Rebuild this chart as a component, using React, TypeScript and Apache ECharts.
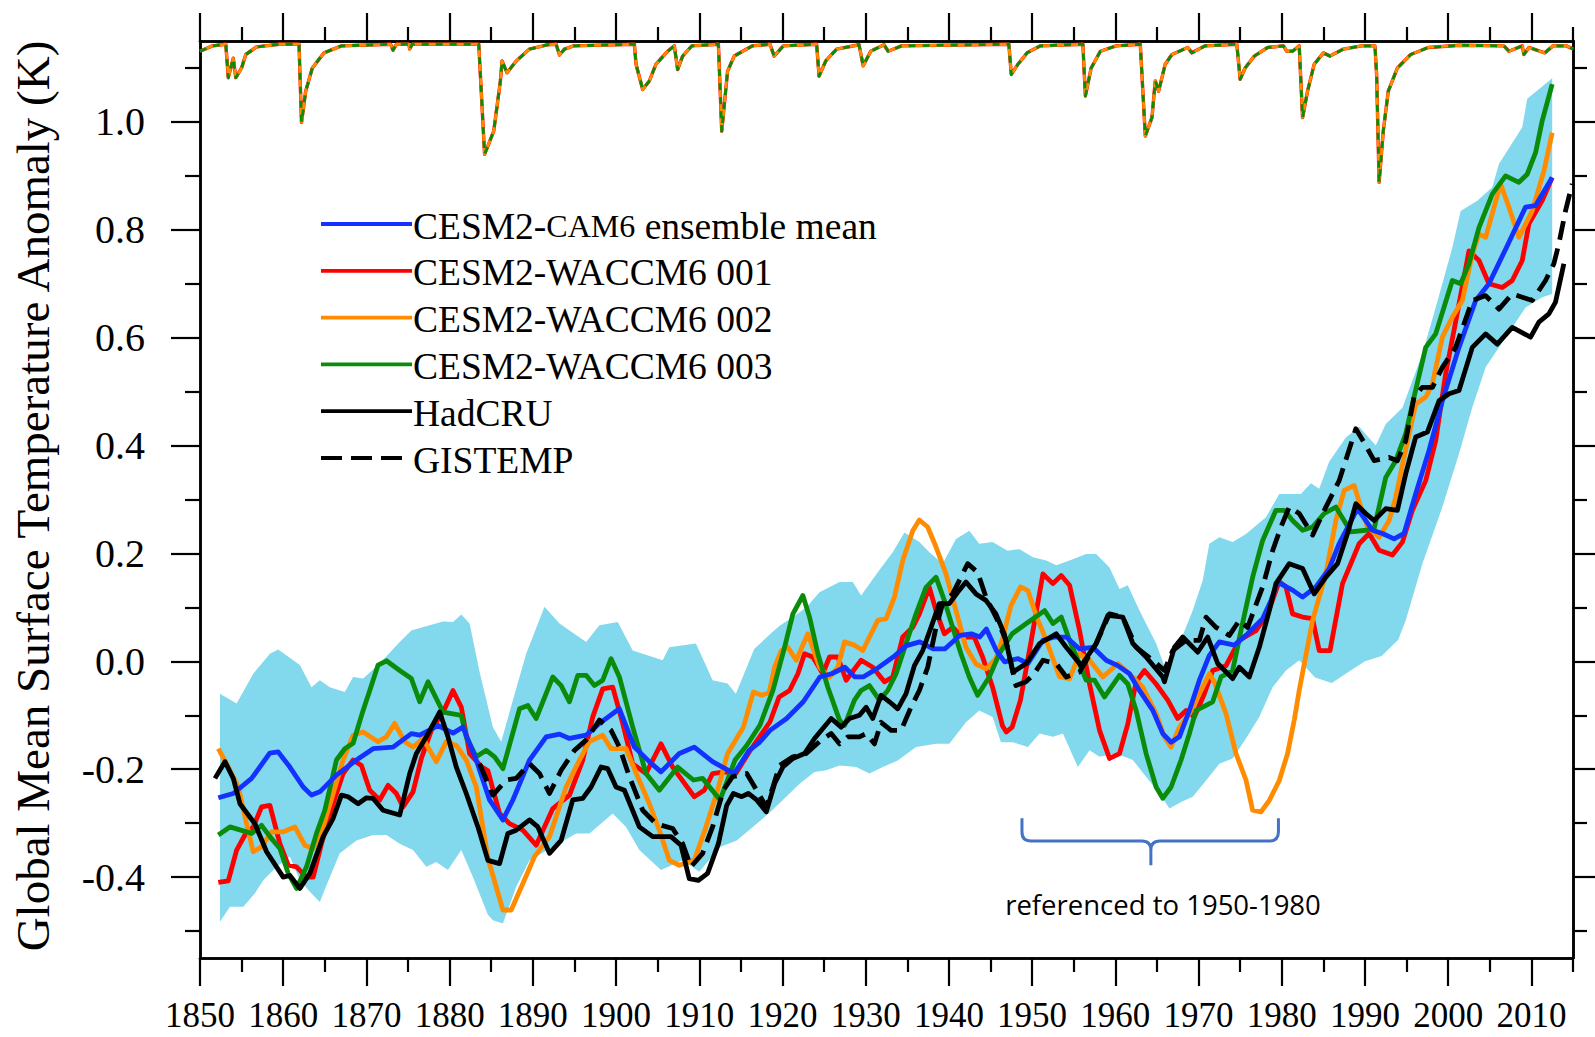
import React, { useEffect, useRef } from "react";
import * as echarts from "echarts";

// ---------------- data (year, anomaly K) ----------------
const ensembleMean: number[][] = [
  [1852.2, -0.253], [1854, -0.245], [1856.2, -0.217], [1858.4, -0.17], [1859.4, -0.168], [1860.8, -0.196],
  [1862.4, -0.233], [1863.4, -0.248], [1864.4, -0.242], [1866.4, -0.211], [1868.8, -0.183], [1870.8, -0.162],
  [1873.2, -0.159], [1875.4, -0.134], [1876.4, -0.137], [1878.6, -0.119], [1880.4, -0.133], [1881.6, -0.122],
  [1883.2, -0.183], [1884.8, -0.257], [1886.4, -0.294], [1887.6, -0.257], [1889.6, -0.183], [1891.6, -0.14],
  [1893.2, -0.135], [1894.4, -0.143], [1896.4, -0.137], [1898, -0.115], [1900.4, -0.088], [1902.2, -0.159],
  [1904, -0.186], [1905.4, -0.205], [1907.6, -0.171], [1909.4, -0.159], [1911.6, -0.186], [1914.2, -0.208],
  [1916, -0.165], [1917.25, -0.15], [1918.5, -0.128], [1920.5, -0.106], [1922.5, -0.075], [1924.5, -0.029],
  [1925.9, -0.023], [1927.5, -0.011], [1928.7, -0.029], [1929.7, -0.029], [1931.3, -0.014], [1933.3, 0.008],
  [1934.9, 0.029], [1936.5, 0.036], [1938.1, 0.023], [1939.5, 0.023], [1941.3, 0.048], [1942.7, 0.051],
  [1943.7, 0.045], [1944.5, 0.06], [1945.7, 0.02], [1946.7, -0.001], [1948.3, 0.005], [1949.5, -0.004],
  [1951.3, 0.039], [1952.7, 0.045], [1954.1, 0.045], [1955.7, 0.023], [1957.3, 0.026], [1958.9, 0.002],
  [1960.3, -0.008], [1961.7, -0.023], [1962.9, -0.054], [1964.5, -0.091], [1965.7, -0.134], [1966.7, -0.15],
  [1967.7, -0.14], [1968.9, -0.091], [1970.1, -0.035], [1971.3, 0.011], [1972.5, 0.036], [1974.3, 0.03],
  [1975.9, 0.051], [1977.7, 0.079], [1978.7, 0.113], [1979.5, 0.147], [1981.3, 0.132], [1982.5, 0.119],
  [1984.1, 0.138], [1985.7, 0.172], [1986.9, 0.218], [1989.1, 0.283], [1990.9, 0.243], [1992.1, 0.237],
  [1993.5, 0.227], [1994.7, 0.237], [1996.1, 0.311], [1997.7, 0.391], [1999.3, 0.483], [2001.3, 0.582],
  [2003.3, 0.669], [2004.9, 0.7], [2006.9, 0.764], [2009.3, 0.842], [2010.5, 0.845], [2012.5, 0.897],
];

const waccm001: number[][] = [
  [1852.2, -0.41], [1853.4, -0.407], [1854.4, -0.35], [1855.4, -0.322], [1856.4, -0.307], [1857.4, -0.27],
  [1858.4, -0.267], [1859.6, -0.338], [1860.6, -0.378], [1861.6, -0.381], [1862.8, -0.4], [1863.6, -0.4],
  [1864.6, -0.338], [1866, -0.264], [1867.2, -0.208], [1868.4, -0.183], [1869.4, -0.193], [1870.4, -0.239],
  [1871.6, -0.257], [1872.6, -0.23], [1873.6, -0.245], [1874.4, -0.27], [1875.6, -0.242], [1876.6, -0.18],
  [1877.8, -0.128], [1879.4, -0.088], [1880.4, -0.054], [1881.4, -0.085], [1882.4, -0.171], [1883.8, -0.195],
  [1884.6, -0.203], [1886, -0.282], [1887.2, -0.301], [1888.8, -0.313], [1890.4, -0.341], [1892.4, -0.273],
  [1894.4, -0.248], [1896, -0.183], [1897.2, -0.103], [1898.4, -0.051], [1899.6, -0.048], [1900.8, -0.115],
  [1902, -0.19], [1903.6, -0.208], [1905.4, -0.153], [1906.8, -0.196], [1909.4, -0.251], [1910.6, -0.239],
  [1911.6, -0.208], [1913, -0.205], [1914.4, -0.208], [1916, -0.168], [1917.25, -0.14], [1918.5, -0.112],
  [1919.6, -0.066], [1920.85, -0.054], [1921.85, -0.023], [1922.65, 0.014], [1923.65, 0.008], [1924.85, -0.023],
  [1925.65, 0.008], [1926.65, 0.008], [1927.65, -0.035], [1929.45, 0.002], [1930.85, -0.011], [1932.25, -0.038],
  [1933.25, -0.029], [1934.45, 0.045], [1935.65, 0.063], [1936.45, 0.088], [1937.65, 0.137], [1938.45, 0.094],
  [1939.45, 0.051], [1940.45, 0.063], [1941.65, 0.045], [1943.05, 0.045], [1944.05, 0.008], [1945.25, -0.048],
  [1946.45, -0.12], [1946.9, -0.131], [1947.6, -0.122], [1948.6, -0.072], [1949.9, 0.039], [1951.3, 0.162],
  [1952.5, 0.144], [1953.5, 0.159], [1954.5, 0.141], [1955.7, 0.057], [1956.9, -0.042], [1958.1, -0.128],
  [1959.3, -0.18], [1960.5, -0.171], [1961.5, -0.116], [1962.5, -0.038], [1963.5, -0.017], [1964.9, -0.042],
  [1966.3, -0.072], [1967.5, -0.106], [1968.5, -0.091], [1969.5, -0.103], [1970.7, -0.06], [1971.7, -0.017],
  [1973.3, -0.008], [1974.9, 0.039], [1976.9, 0.057], [1978.3, 0.088], [1979.7, 0.148], [1980.5, 0.138],
  [1981.3, 0.088], [1982.5, 0.082], [1983.7, 0.079], [1984.5, 0.02], [1985.8, 0.02], [1987.3, 0.144],
  [1989.3, 0.218], [1990.5, 0.237], [1991.7, 0.206], [1993.3, 0.197], [1994.5, 0.221], [1995.7, 0.28],
  [1997.3, 0.335], [1998.5, 0.409], [1999.7, 0.533], [2001.3, 0.662], [2002.5, 0.761], [2003.7, 0.743],
  [2004.9, 0.7], [2006.5, 0.693], [2007.7, 0.706], [2008.9, 0.743], [2009.7, 0.811], [2011.3, 0.854],
  [2012.5, 0.897],
];

const waccm002: number[][] = [
  [1852.2, -0.162], [1853.4, -0.196], [1854.6, -0.233], [1855.6, -0.301], [1856.4, -0.353], [1857.4, -0.344],
  [1858.6, -0.316], [1860, -0.316], [1861.4, -0.307], [1862.6, -0.341], [1863.6, -0.347], [1864.8, -0.307],
  [1866, -0.245], [1867.2, -0.183], [1868.4, -0.137], [1869.6, -0.131], [1871.4, -0.149], [1872.4, -0.14],
  [1873.4, -0.115], [1874.6, -0.149], [1875.6, -0.159], [1876.8, -0.143], [1878.4, -0.186], [1879.6, -0.149],
  [1880.8, -0.156], [1882, -0.183], [1883.2, -0.233], [1884.6, -0.365], [1886.4, -0.461], [1887.4, -0.461],
  [1888.8, -0.412], [1890.2, -0.362], [1892, -0.325], [1894, -0.233], [1895.6, -0.183], [1896.8, -0.149],
  [1898.4, -0.137], [1899.4, -0.162], [1901.2, -0.162], [1902.6, -0.214], [1904, -0.264], [1905.2, -0.313],
  [1906.4, -0.369], [1907.6, -0.378], [1909.4, -0.369], [1910.8, -0.307], [1912.2, -0.239], [1913.4, -0.171],
  [1915.3, -0.122], [1916.5, -0.057], [1917.5, -0.063], [1918.4, -0.058], [1919.05, -0.011], [1919.85, 0.02],
  [1920.65, 0.026], [1921.65, 0.002], [1923.05, 0.051], [1924.45, -0.011], [1925.65, -0.029], [1926.65, -0.011],
  [1927.45, 0.036], [1928.65, 0.03], [1929.65, 0.02], [1931.45, 0.076], [1932.45, 0.079], [1933.45, 0.119],
  [1934.45, 0.187], [1935.65, 0.242], [1936.45, 0.262], [1937.45, 0.249], [1938.45, 0.212], [1939.65, 0.162],
  [1940.85, 0.094], [1942.05, 0.026], [1943.25, -0.005], [1944.45, -0.014], [1945.65, 0.005], [1946.45, 0.042],
  [1947.45, 0.103], [1948.6, 0.138], [1949.5, 0.131], [1950.6, 0.08], [1951.7, 0.039], [1953.3, -0.029],
  [1954.5, -0.032], [1955.7, 0.014], [1956.9, 0.002], [1958.5, -0.029], [1960.3, -0.004], [1961.7, -0.023],
  [1963.3, -0.048], [1964.9, -0.097], [1965.9, -0.14], [1966.7, -0.159], [1967.7, -0.122], [1968.9, -0.097],
  [1970.1, -0.06], [1971.3, -0.023], [1971.9, -0.038], [1973.3, -0.097], [1974.5, -0.171], [1975.7, -0.22],
  [1976.5, -0.276], [1977.5, -0.279], [1978.5, -0.258], [1979.7, -0.221], [1980.7, -0.171], [1981.5, -0.109],
  [1982.1, -0.054], [1983.7, 0.076], [1985.3, 0.162], [1986.5, 0.261], [1987.5, 0.317], [1988.7, 0.326],
  [1989.5, 0.286], [1990.3, 0.249], [1991.7, 0.23], [1992.9, 0.261], [1993.7, 0.304], [1994.7, 0.379],
  [1996.1, 0.477], [1997.3, 0.49], [1998.1, 0.514], [1999.3, 0.601], [2000.5, 0.638], [2001.7, 0.669],
  [2002.9, 0.755], [2003.7, 0.792], [2004.5, 0.786], [2006.3, 0.885], [2007.3, 0.842], [2008.5, 0.786],
  [2010.1, 0.835], [2011.5, 0.909], [2012.5, 0.98],
];

const waccm003: number[][] = [
  [1852.2, -0.322], [1853.6, -0.307], [1856.2, -0.319], [1857.4, -0.304], [1858.4, -0.325], [1859.6, -0.347],
  [1860.6, -0.393], [1861.6, -0.421], [1862.8, -0.381], [1864, -0.319], [1865, -0.276], [1866.4, -0.183],
  [1867.4, -0.162], [1868.4, -0.152], [1869.6, -0.091], [1870.4, -0.054], [1871.4, -0.007], [1872.4, 0.001],
  [1874, -0.017], [1875.4, -0.032], [1876.4, -0.075], [1877.4, -0.038], [1879.2, -0.094], [1881.4, -0.1],
  [1882, -0.14], [1883.2, -0.177], [1884.4, -0.165], [1885.4, -0.177], [1886.4, -0.199], [1888.4, -0.088],
  [1889.4, -0.082], [1890.4, -0.106], [1892.4, -0.029], [1893.4, -0.045], [1894.4, -0.075], [1895.4, -0.026],
  [1896.4, -0.026], [1897.4, -0.045], [1898.4, -0.035], [1899.4, 0.005], [1900.4, -0.029], [1902, -0.122],
  [1903.6, -0.208], [1905.2, -0.239], [1907.4, -0.196], [1909.3, -0.22], [1910.4, -0.217], [1912.5, -0.257],
  [1914.3, -0.183], [1915.7, -0.156], [1917.3, -0.118], [1918.85, -0.054], [1920.25, 0.026], [1921.25, 0.088],
  [1922.45, 0.122], [1923.25, 0.082], [1924.25, 0.014], [1925.45, -0.048], [1926.85, -0.109], [1927.45, -0.119],
  [1928.65, -0.072], [1929.45, -0.054], [1930.45, -0.045], [1931.65, -0.072], [1932.65, -0.054], [1933.65, -0.023],
  [1934.85, 0.033], [1936.05, 0.088], [1937.25, 0.137], [1938.45, 0.156], [1939.45, 0.113], [1940.45, 0.063],
  [1941.45, 0.014], [1942.45, -0.029], [1943.45, -0.063], [1944.85, -0.029], [1946.05, 0.014], [1947.6, 0.051],
  [1949.3, 0.07], [1951.5, 0.094], [1952.5, 0.07], [1953.5, 0.082], [1954.5, 0.039], [1956.5, -0.035],
  [1957.5, -0.035], [1958.7, -0.066], [1960.5, -0.026], [1961.5, -0.042], [1962.5, -0.091], [1963.7, -0.171],
  [1964.9, -0.233], [1965.7, -0.254], [1966.7, -0.233], [1967.9, -0.183], [1968.9, -0.134], [1969.7, -0.091],
  [1970.5, -0.085], [1971.7, -0.075], [1972.7, -0.029], [1974.1, -0.017], [1975.1, 0.057], [1976.5, 0.156],
  [1977.7, 0.224], [1979.3, 0.28], [1980.3, 0.28], [1981.3, 0.261], [1982.5, 0.243], [1983.7, 0.249],
  [1985.1, 0.274], [1986.5, 0.286], [1988.3, 0.24], [1990.1, 0.243], [1991.1, 0.246], [1992.5, 0.341],
  [1993.7, 0.372], [1994.9, 0.422], [1995.7, 0.477], [1997.3, 0.582], [1998.5, 0.607], [2000.5, 0.706],
  [2001.5, 0.7], [2002.5, 0.737], [2003.7, 0.804], [2005.3, 0.866], [2006.9, 0.9], [2008.5, 0.888],
  [2009.5, 0.903], [2010.5, 0.943], [2011.3, 1.002], [2012.5, 1.07],
];

const hadcru: number[][] = [
  [1851.8, -0.217], [1853, -0.186], [1854, -0.217], [1854.8, -0.264], [1856.6, -0.301], [1858, -0.353],
  [1860, -0.4], [1860.8, -0.397], [1862, -0.421], [1863.2, -0.393], [1864.8, -0.325], [1866, -0.291],
  [1867, -0.248], [1867.8, -0.251], [1869, -0.264], [1870, -0.253], [1870.8, -0.254], [1872, -0.276],
  [1874, -0.285], [1875.2, -0.208], [1876, -0.171], [1877.2, -0.14], [1878.8, -0.094], [1879.8, -0.14],
  [1880.8, -0.196], [1882, -0.245], [1883.4, -0.307], [1884.6, -0.369], [1886, -0.375], [1887, -0.319],
  [1888, -0.313], [1889.6, -0.294], [1890.6, -0.307], [1892, -0.356], [1893.4, -0.332], [1894.8, -0.257],
  [1896, -0.254], [1897, -0.233], [1898.2, -0.196], [1899, -0.199], [1900, -0.233], [1901, -0.239],
  [1902.8, -0.307], [1904.4, -0.325], [1906.6, -0.325], [1907.8, -0.341], [1908.8, -0.403], [1909.9, -0.406],
  [1911, -0.393], [1912.3, -0.338], [1913.3, -0.267], [1914.1, -0.245], [1915.1, -0.251], [1915.9, -0.245],
  [1916.9, -0.257], [1918.05, -0.279], [1919.05, -0.227], [1920.05, -0.196], [1921.25, -0.18], [1922.65, -0.171],
  [1923.85, -0.143], [1925.85, -0.106], [1927.05, -0.122], [1928.05, -0.106], [1929.25, -0.1], [1930.05, -0.085],
  [1930.85, -0.106], [1931.85, -0.063], [1932.85, -0.075], [1933.85, -0.088], [1934.85, -0.06], [1935.85, -0.008],
  [1936.85, 0.02], [1937.85, 0.063], [1938.85, 0.107], [1940.05, 0.107], [1941.05, 0.128], [1942.05, 0.147],
  [1943.25, 0.125], [1944.45, 0.113], [1945.65, 0.088], [1946.65, 0.051], [1947.7, -0.02], [1949.3, -0.004],
  [1950.9, 0.033], [1952.9, 0.051], [1954.1, 0.026], [1955.9, -0.008], [1957.7, 0.033], [1959.1, 0.085],
  [1960.9, 0.082], [1962.1, 0.033], [1963.7, 0.008], [1965.7, -0.029], [1965.9, -0.038], [1967.1, 0.026],
  [1968.1, 0.045], [1969.9, 0.017], [1971.1, 0.045], [1972.3, -0.004], [1974.1, -0.032], [1974.9, -0.011],
  [1976.1, -0.029], [1977.3, 0.026], [1978.5, 0.094], [1979.3, 0.144], [1980.9, 0.181], [1982.5, 0.172],
  [1983.9, 0.125], [1985.3, 0.156], [1986.7, 0.181], [1987.9, 0.237], [1988.9, 0.292], [1990.1, 0.274],
  [1991.1, 0.261], [1992.5, 0.283], [1993.9, 0.28], [1994.9, 0.348], [1996.1, 0.416], [1997.5, 0.425],
  [1998.9, 0.483], [2000.1, 0.496], [2001.3, 0.502], [2002.9, 0.582], [2004.5, 0.607], [2005.9, 0.588],
  [2007.7, 0.619], [2009.9, 0.601], [2010.9, 0.629], [2012.1, 0.644], [2012.9, 0.666], [2013.9, 0.737],
];

const gistemp: number[][] = [
  [1883.6, -0.19], [1885.2, -0.248], [1886.8, -0.22], [1888, -0.217], [1889.6, -0.19], [1890.8, -0.208],
  [1892, -0.245], [1893.4, -0.202], [1895, -0.165], [1896.4, -0.146], [1898, -0.109], [1899.4, -0.128],
  [1900.4, -0.159], [1901.6, -0.214], [1903.2, -0.276], [1904.8, -0.301], [1906.8, -0.31], [1908, -0.338],
  [1909, -0.381], [1910.4, -0.356], [1911.6, -0.307], [1912.9, -0.239], [1914, -0.214], [1915.7, -0.208],
  [1916.9, -0.239], [1918.05, -0.27], [1918.85, -0.233], [1919.65, -0.193], [1921.25, -0.177], [1922.85, -0.171],
  [1924.65, -0.146], [1925.85, -0.134], [1926.85, -0.153], [1927.85, -0.14], [1929.25, -0.14], [1930.05, -0.134],
  [1931.05, -0.153], [1931.85, -0.113], [1933.05, -0.128], [1934.25, -0.128], [1935.45, -0.085], [1936.45, -0.054],
  [1937.45, -0.011], [1938.45, 0.063], [1939.25, 0.107], [1940.45, 0.125], [1941.45, 0.156], [1942.25, 0.181],
  [1943.45, 0.165], [1944.45, 0.119], [1945.85, 0.076], [1946.85, 0.039], [1948.05, -0.045], [1949.25, -0.038],
  [1950.25, -0.023], [1951.3, 0.002], [1952.9, -0.004], [1954.1, -0.029], [1955.7, -0.02], [1957.7, 0.033],
  [1959.3, 0.088], [1960.9, 0.082], [1962.5, 0.026], [1964.5, 0.002], [1965.9, -0.017], [1966.9, 0.02],
  [1968.5, 0.039], [1970.1, 0.039], [1970.9, 0.082], [1972.1, 0.063], [1973.7, 0.048], [1974.9, 0.076],
  [1975.9, 0.063], [1977.7, 0.138], [1978.9, 0.205], [1979.9, 0.249], [1980.9, 0.286], [1982.1, 0.274],
  [1983.7, 0.234], [1985.3, 0.286], [1986.9, 0.335], [1988.9, 0.431], [1990.1, 0.4], [1991.1, 0.372],
  [1992.9, 0.378], [1993.9, 0.372], [1994.9, 0.409], [1995.9, 0.49], [1996.9, 0.508], [1998.1, 0.508],
  [1999.3, 0.545], [2000.9, 0.582], [2002.9, 0.669], [2004.5, 0.678], [2006.1, 0.653], [2007.7, 0.681],
  [2010.1, 0.669], [2011.7, 0.706], [2012.7, 0.737], [2013.3, 0.774], [2014.1, 0.835], [2014.9, 0.885],
];

const ensembleRangeUpper: number[][] = [
  [1852.4, -0.06], [1854.4, -0.078], [1856.4, -0.023], [1858.4, 0.014], [1859.4, 0.022], [1862, -0.007],
  [1863.4, -0.048], [1864.4, -0.035], [1865.6, -0.048], [1867.4, -0.057], [1868.4, -0.029], [1869.6, -0.032],
  [1871.6, -0.004], [1874, 0.036], [1875.4, 0.057], [1877.6, 0.067], [1879.2, 0.074], [1880.4, 0.073],
  [1881.4, 0.087], [1882.4, 0.07], [1883.6, -0.02], [1885.2, -0.122], [1886.2, -0.149], [1887.6, -0.072],
  [1889.2, 0.014], [1891.4, 0.101], [1893.2, 0.07], [1896.4, 0.036], [1898, 0.067], [1900.2, 0.073],
  [1902, 0.02], [1905.6, 0.002], [1906.4, 0.026], [1909.6, 0.033], [1911.6, -0.035], [1913.4, -0.041],
  [1914.4, -0.06], [1916.6, 0.023], [1918.5, 0.05], [1919.65, 0.066], [1921.25, 0.082], [1922.85, 0.1],
  [1924.45, 0.128], [1926.85, 0.147], [1928.45, 0.147], [1929.45, 0.122], [1931.45, 0.165], [1933.25, 0.202],
  [1934.65, 0.239], [1936.45, 0.221], [1937.65, 0.202], [1939.25, 0.181], [1940.85, 0.227], [1942.45, 0.242],
  [1943.65, 0.218], [1945.25, 0.221], [1947.05, 0.205], [1948.5, 0.208], [1950.1, 0.193], [1951.7, 0.187],
  [1952.9, 0.178], [1954.5, 0.187], [1956.5, 0.199], [1957.7, 0.199], [1959.3, 0.174], [1960.5, 0.134],
  [1961.5, 0.141], [1962.9, 0.094], [1964.9, 0.033], [1966.1, -0.017], [1967.7, 0.033], [1969.3, 0.094],
  [1970.5, 0.15], [1971.3, 0.218], [1972.5, 0.23], [1974.1, 0.221], [1975.7, 0.236], [1978.1, 0.267],
  [1979.7, 0.31], [1982.3, 0.31], [1983.5, 0.33], [1984.5, 0.32], [1985.7, 0.37], [1987.7, 0.415],
  [1989.3, 0.435], [1991.3, 0.4], [1992.5, 0.44], [1994.5, 0.47], [1996.9, 0.57], [1998.5, 0.656],
  [2000.5, 0.767], [2001.5, 0.835], [2003.5, 0.854], [2005.3, 0.879], [2006.1, 0.922], [2008.9, 0.99],
  [2009.5, 1.043], [2012.5, 1.081],
];

const ensembleRangeLower: number[][] = [
  [1852.4, -0.483], [1853.6, -0.455], [1855.2, -0.455], [1856.6, -0.43], [1857.6, -0.406], [1859.2, -0.381],
  [1860.8, -0.362], [1862, -0.406], [1863.2, -0.427], [1864.4, -0.446], [1865.2, -0.415], [1866.8, -0.356],
  [1868.8, -0.332], [1870.8, -0.322], [1872.4, -0.322], [1874, -0.338], [1875.6, -0.35], [1877.2, -0.381],
  [1878.4, -0.372], [1879.8, -0.387], [1881.4, -0.35], [1882.8, -0.4], [1884.6, -0.47], [1885.2, -0.48],
  [1886.4, -0.486], [1888, -0.418], [1889.6, -0.369], [1892.4, -0.344], [1895.2, -0.319], [1896.8, -0.319],
  [1899.6, -0.282], [1901.2, -0.307], [1902.8, -0.35], [1905.4, -0.387], [1908, -0.369], [1910, -0.39],
  [1912.5, -0.344], [1914.5, -0.332], [1916.9, -0.301], [1918.5, -0.28], [1920.45, -0.251], [1922.05, -0.227],
  [1923.85, -0.205], [1925.25, -0.202], [1926.85, -0.193], [1928.85, -0.196], [1930.45, -0.208], [1932.05, -0.196],
  [1933.85, -0.184], [1936.05, -0.159], [1938.45, -0.153], [1940.05, -0.153], [1942.05, -0.113], [1943.65, -0.091],
  [1945.25, -0.103], [1946.25, -0.15], [1947.7, -0.15], [1949.5, -0.159], [1950.9, -0.134], [1952.5, -0.14],
  [1953.7, -0.134], [1955.5, -0.196], [1956.9, -0.165], [1958.1, -0.177], [1960.1, -0.171], [1962.1, -0.183],
  [1963.7, -0.214], [1965.3, -0.245], [1966.5, -0.273], [1967.9, -0.261], [1969.3, -0.251], [1970.9, -0.221],
  [1972.5, -0.19], [1974.1, -0.18], [1975.7, -0.143], [1977.3, -0.103], [1978.9, -0.048], [1980.5, -0.017],
  [1982.1, 0.002], [1984, -0.03], [1986, -0.04], [1988, -0.02], [1990, 0.0], [1992, 0.01], [1994, 0.04],
  [1994.9, 0.076], [1996.9, 0.181], [1999.3, 0.286], [2001.3, 0.385], [2002.9, 0.471], [2004.5, 0.545],
  [2006.1, 0.582], [2007.7, 0.619], [2009.3, 0.656], [2011.3, 0.675], [2012.5, 0.681],
];

// volcanic-forcing trace drawn along the top (same trace for the three WACCM members)
const volcanicTrace: number[][] = [
  [1850.0, 1.131], [1851.5, 1.141], [1853.1, 1.144], [1853.4, 1.082], [1854.0, 1.118], [1854.3, 1.082],
  [1855.0, 1.1], [1855.5, 1.125], [1856.8, 1.139], [1859.5, 1.144], [1861.9, 1.144], [1862.2, 0.999],
  [1862.7, 1.057], [1863.5, 1.1], [1864.9, 1.128], [1867.0, 1.141], [1872.9, 1.144], [1873.2, 1.133],
  [1873.6, 1.144], [1875.1, 1.144], [1875.2, 1.135], [1875.5, 1.144], [1883.5, 1.144], [1884.2, 0.94],
  [1885.3, 0.983], [1886.1, 1.076], [1886.3, 1.113], [1886.9, 1.091], [1888.0, 1.113], [1889.6, 1.135],
  [1891.7, 1.143], [1892.8, 1.144], [1893.2, 1.124], [1893.8, 1.135], [1894.9, 1.141], [1902.2, 1.144],
  [1902.4, 1.107], [1903.2, 1.06], [1904.0, 1.076], [1904.8, 1.107], [1906.2, 1.131], [1907.0, 1.141],
  [1907.4, 1.097], [1908.0, 1.122], [1909.1, 1.141], [1912.3, 1.144], [1912.7, 0.983], [1913.4, 1.094],
  [1914.2, 1.122], [1916.4, 1.141], [1918.5, 1.144], [1919.0, 1.122], [1920.1, 1.141], [1924.1, 1.144],
  [1924.4, 1.085], [1925.2, 1.113], [1926.5, 1.135], [1929.2, 1.143], [1929.7, 1.104], [1930.6, 1.131],
  [1932.2, 1.143], [1932.7, 1.131], [1934.3, 1.141], [1947.2, 1.144], [1947.5, 1.088], [1948.3, 1.107],
  [1949.4, 1.128], [1951.0, 1.141], [1956.1, 1.144], [1956.4, 1.048], [1957.1, 1.1], [1958.2, 1.131],
  [1960.1, 1.141], [1963.0, 1.144], [1963.6, 0.974], [1964.4, 1.008], [1964.8, 1.076], [1965.2, 1.057],
  [1966.0, 1.107], [1966.8, 1.125], [1968.7, 1.138], [1969.2, 1.128], [1970.8, 1.141], [1974.6, 1.144],
  [1975.0, 1.079], [1975.6, 1.1], [1976.7, 1.122], [1978.3, 1.138], [1980.2, 1.141], [1980.6, 1.131],
  [1981.3, 1.131], [1982.1, 1.141], [1982.5, 1.008], [1983.1, 1.057], [1983.9, 1.107], [1985.0, 1.128],
  [1985.8, 1.122], [1987.4, 1.135], [1989.6, 1.141], [1991.2, 1.141], [1991.4, 1.088], [1991.7, 0.888],
  [1992.2, 0.983], [1992.8, 1.057], [1993.9, 1.1], [1995.5, 1.125], [1997.6, 1.138], [2001.4, 1.142],
  [2006.7, 1.141], [2007.3, 1.131], [2008.9, 1.141], [2009.1, 1.125], [2009.7, 1.138], [2011.6, 1.128],
  [2012.6, 1.141], [2014.2, 1.141], [2015.0, 1.135],
];

// axis ticks / labels
const xMajorTicks = [1850, 1860, 1870, 1880, 1890, 1900, 1910, 1920, 1930, 1940, 1950, 1960, 1970, 1980, 1990, 2000, 2010];
const xMinorTicks = [1855, 1865, 1875, 1885, 1895, 1905, 1915, 1925, 1935, 1945, 1955, 1965, 1975, 1985, 1995, 2005, 2015];
const yMajorTicks = [-0.4, -0.2, 0.0, 0.2, 0.4, 0.6, 0.8, 1.0];
const yMinorTicks = [-0.5, -0.3, -0.1, 0.1, 0.3, 0.5, 0.7, 0.9, 1.1];

// bracket "referenced to 1950-1980": [left, centre, right] years and [top, bar, tip] levels
const braceYears = [1948.78, 1964.27, 1979.6];
const braceLevels = [-0.291, -0.333, -0.378];

const legendNames = [
  "CESM2-CAM6 ensemble mean",
  "CESM2-WACCM6 001",
  "CESM2-WACCM6 002",
  "CESM2-WACCM6 003",
  "HadCRU",
  "GISTEMP",
];

// ---------------- styles ----------------
const X_MIN = 1850;
const X_MAX = 2015;
const Y_MIN = -0.55;
const Y_MAX = 1.15;
const SERIF = "'Liberation Serif', 'Times New Roman', serif";
const BLUE = "#1432ff";
const RED = "#ff0000";
const ORANGE = "#ff8c00";
const GREEN = "#0a8c0a";
const BLACK = "#000000";
const BAND = "#82d8ec";
const BRACE = "#4472c4";
const legendColors = [BLUE, RED, ORANGE, GREEN, BLACK, BLACK];
const LW = 4.8;

function makeXAxis(position: string, ticks: number[], len: number, labels: boolean) {
  return {
    type: "value",
    position,
    min: X_MIN,
    max: X_MAX,
    axisLine: { show: true, onZero: false, lineStyle: { color: "#000", width: 2.5 } },
    axisTick: { show: true, inside: false, length: len, customValues: ticks, lineStyle: { color: "#000", width: 2.2 } },
    axisLabel: {
      show: labels,
      customValues: ticks,
      fontFamily: SERIF,
      fontSize: 35,
      lineHeight: 30,
      color: "#000",
      margin: 42,
      formatter: (v: number) => String(Math.round(v)),
    },
    splitLine: { show: false },
  };
}

function makeYAxis(position: string, ticks: number[], len: number, labels: boolean) {
  return {
    type: "value",
    position,
    min: Y_MIN,
    max: Y_MAX,
    axisLine: { show: true, onZero: false, lineStyle: { color: "#000", width: 2.5 } },
    axisTick: { show: true, inside: false, length: len, customValues: ticks, lineStyle: { color: "#000", width: 2.2 } },
    axisLabel: {
      show: labels,
      customValues: ticks,
      fontFamily: SERIF,
      fontSize: 40,
      color: "#000",
      margin: 55,
      formatter: (v: number) => v.toFixed(1),
    },
    splitLine: { show: false },
  };
}

function line(name: string, data: number[][], color: string, width: number, dash?: any, z = 3) {
  return {
    type: "line",
    name,
    data,
    xAxisIndex: 0,
    yAxisIndex: 0,
    symbol: "none",
    showSymbol: false,
    silent: true,
    z,
    lineStyle: { color, width, type: dash || "solid", join: "round" },
  };
}

export default function App() {
  const ref = useRef<HTMLDivElement>(null);

  useEffect(() => {
    if (!ref.current) return;
    const chart = echarts.init(ref.current, null, { renderer: "svg", width: 1595, height: 1037 });

    const legendGraphics: any[] = [];
    const rowY0 = 224;
    const rowStep = 46.8;
    legendNames.forEach((name, i) => {
      const y = rowY0 + i * rowStep;
      legendGraphics.push({
        type: "line",
        shape: { x1: 321, y1: y, x2: name === "GISTEMP" ? 404 : 412, y2: y },
        style: {
          stroke: legendColors[i],
          lineWidth: 3.8,
          lineDash: name === "GISTEMP" ? [21, 9] : null,
        },
        silent: true,
      });
      const isCam = name.indexOf("CAM6 ") >= 0;
      const text = isCam ? "{a|CESM2-}{b|CAM6}{a| ensemble mean}" : "{a|" + name + "}";
      legendGraphics.push({
        type: "text",
        x: 413,
        y: y + 2,
        style: {
          text,
          fill: "#000",
          align: "left",
          verticalAlign: "middle",
          textAlign: "left",
          textVerticalAlign: "middle",
          rich: {
            a: { fontFamily: SERIF, fontSize: 37.5, fill: "#000", color: "#000" },
            b: { fontFamily: SERIF, fontSize: 32, fill: "#000", color: "#000" },
          },
        },
        silent: true,
      });
    });

    const option: any = {
      animation: false,
      backgroundColor: "#ffffff",
      grid: { left: 200, top: 41, right: 22, bottom: 79, containLabel: false },
      xAxis: [
        makeXAxis("bottom", xMajorTicks, 28, true),
        makeXAxis("bottom", xMinorTicks, 14, false),
        makeXAxis("top", xMajorTicks, 28, false),
        makeXAxis("top", xMinorTicks, 14, false),
      ],
      yAxis: [
        makeYAxis("left", yMajorTicks, 29, true),
        makeYAxis("left", yMinorTicks, 15, false),
        makeYAxis("right", yMajorTicks, 28, false),
        makeYAxis("right", yMinorTicks, 14, false),
      ],
      series: [
        {
          type: "custom",
          name: "ensemble range",
          xAxisIndex: 0,
          yAxisIndex: 0,
          silent: true,
          z: 1,
          data: [ensembleRangeUpper[0]],
          renderItem: (_params: any, api: any) => {
            const pts = ensembleRangeUpper
              .map((p) => api.coord(p))
              .concat(ensembleRangeLower.slice().reverse().map((p) => api.coord(p)));
            return { type: "polygon", shape: { points: pts }, style: { fill: BAND, stroke: null } };
          },
        },
        line("CESM2-WACCM6 001", waccm001, RED, LW),
        line("CESM2-WACCM6 002", waccm002, ORANGE, LW),
        line("CESM2-WACCM6 003", waccm003, GREEN, LW),
        line("CESM2-CAM6 ensemble mean", ensembleMean, BLUE, LW),
        line("GISTEMP", gistemp, BLACK, LW, [19, 9]),
        line("HadCRU", hadcru, BLACK, LW),
        line("volcanic 001", volcanicTrace, RED, 3.4, "solid", 4),
        line("volcanic 002", volcanicTrace, ORANGE, 2.8, "solid", 4),
        line("volcanic 003", volcanicTrace, GREEN, 2.8, [7, 7], 4),
        {
          type: "custom",
          name: "reference bracket",
          xAxisIndex: 0,
          yAxisIndex: 0,
          silent: true,
          z: 5,
          data: [[braceYears[1], braceLevels[1]]],
          renderItem: (_params: any, api: any) => {
            const l = api.coord([braceYears[0], braceLevels[0]]);
            const c = api.coord([braceYears[1], braceLevels[1]]);
            const r = api.coord([braceYears[2], braceLevels[0]]);
            const tip = api.coord([braceYears[1], braceLevels[2]]);
            const xl = l[0], yt = l[1], xc = c[0], ym = c[1], xr = r[0], yb = tip[1];
            const q = 9;
            const d =
              `M${xl},${yt} L${xl},${ym - q} Q${xl},${ym} ${xl + q},${ym} L${xc - q},${ym} Q${xc},${ym} ${xc},${ym + q} L${xc},${yb} ` +
              `M${xc},${ym + q} Q${xc},${ym} ${xc + q},${ym} L${xr - q},${ym} Q${xr},${ym} ${xr},${ym - q} L${xr},${yt}`;
            return { type: "path", shape: { pathData: d }, style: { stroke: BRACE, lineWidth: 3, fill: null } };
          },
        },
      ],
      graphic: [
        {
          type: "text",
          x: 33,
          y: 496,
          rotation: Math.PI / 2,
          style: {
            text: "Global Mean Surface Temperature Anomaly (K)",
            fontFamily: SERIF,
            fontSize: 47,
            fill: "#000",
            align: "center",
            verticalAlign: "middle",
            textAlign: "center",
            textVerticalAlign: "middle",
          },
          silent: true,
        },
        {
          type: "text",
          x: 1163,
          y: 904,
          style: {
            text: "referenced to 1950-1980",
            fontFamily: "'Open Sans', 'Liberation Sans', sans-serif",
            fontSize: 27.5,
            fill: "#000",
            align: "center",
            verticalAlign: "middle",
            textAlign: "center",
            textVerticalAlign: "middle",
          },
          silent: true,
        },
        ...legendGraphics,
      ],
    };

    chart.setOption(option);
    return () => {
      chart.dispose();
    };
  }, []);

  return (
    <div
      ref={ref}
      style={{ position: "absolute", left: 0, top: 0, width: 1595, height: 1037, background: "#fff" }}
    />
  );
}
